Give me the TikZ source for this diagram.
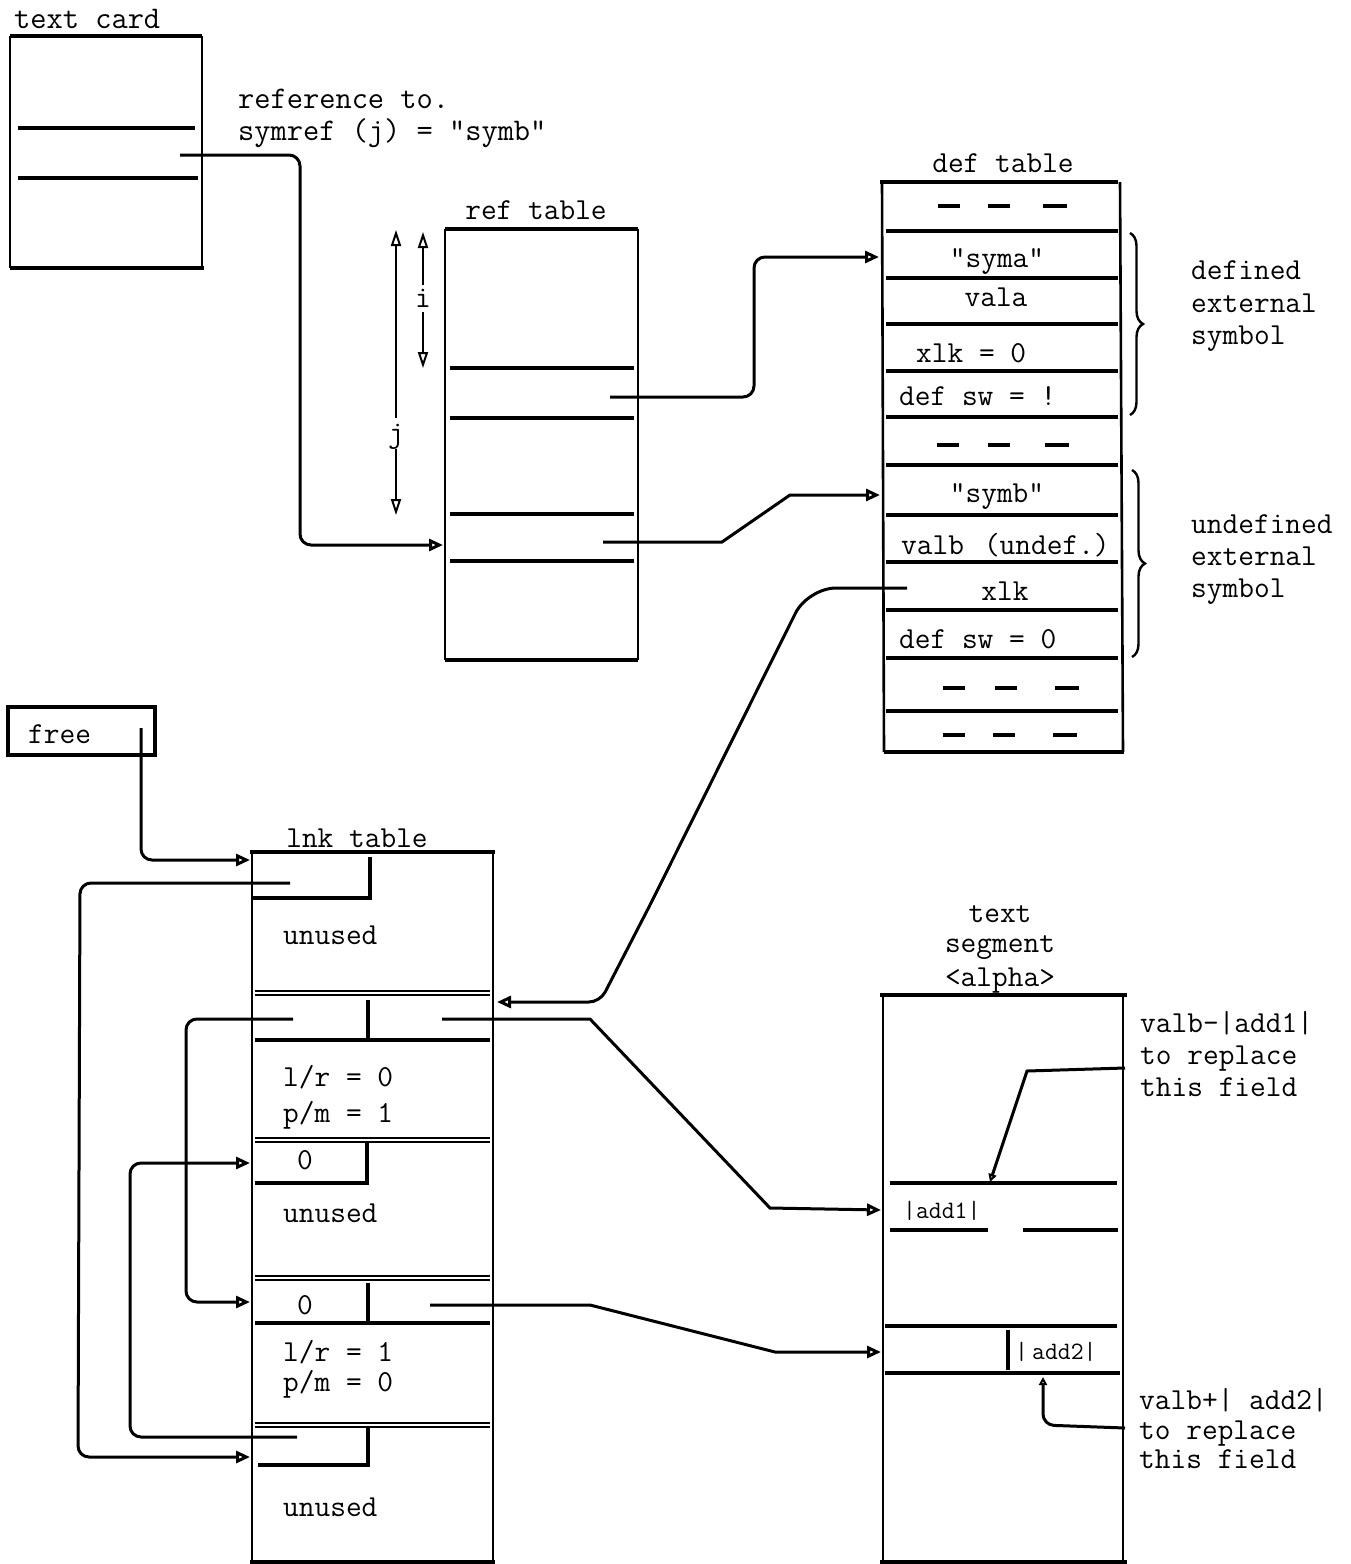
\documentclass[tikz,border=0pt]{standalone}
\usepackage{fontspec}
\usetikzlibrary{arrows.meta,decorations.pathreplacing}
\begin{document}
\begin{tikzpicture}[x=1pt,y=-1pt,
  ln/.style={line width=3.2pt},
  vln/.style={line width=2.6pt},
  conn/.style={line width=3pt, rounded corners=11pt},
  arr/.style={-{Triangle[open,length=14pt,width=12pt]}},
  sarr/.style={-{Triangle[open,length=8pt,width=8pt]}},
  dim/.style={line width=2pt,{Triangle[open,length=16pt,width=10pt]}-{Triangle[open,length=16pt,width=10pt]}},
  txt/.style={font=\ttfamily\fontsize{30.5}{34}\selectfont, inner sep=0pt, text height=19pt, text depth=0pt, anchor=west},
  ctxt/.style={font=\ttfamily\fontsize{30.5}{34}\selectfont, inner sep=0pt, text height=19pt, text depth=0pt},
  big/.style={font=\ttfamily\fontsize{31.5}{35}\selectfont},
  stxt/.style={font=\ttfamily\fontsize{25}{29}\selectfont, inner sep=0pt, text height=15pt, text depth=0pt, anchor=west},
  dbl/.style={double, double distance=2.5pt, line width=1.6pt},
  brc/.style={decorate, decoration={brace, amplitude=13pt}, line width=2.4pt},
]
\useasboundingbox (0,0) rectangle (1351,1564);

% ---------------- text card ----------------
\node[txt,big] (tclab) at (14,19) {text card};
\draw[ln] (10,36) -- (202,36);
\draw[vln] (10,36) -- (10,268);
\draw[vln] (202,36) -- (202,268);
\draw[ln] (10,268) -- (204,268);
\draw[ln] (18,128) -- (195,128);
\draw[ln] (18,178) -- (198,178);
\coordinate (tcs) at (180,155);
\node[txt,big] (reflab1) at (238,99) {reference to.};
\node[txt,big] (reflab2) at (238,131) {symref (j) = "symb"};

% ---------------- ref table ----------------
\node[ctxt] (rtlab) at (536,210) {ref table};
\draw[ln] (445,229) -- (638,229);
\draw[vln] (445,229) -- (445,660);
\draw[vln] (638,229) -- (638,660);
\draw[ln] (445,660) -- (638,660);
\foreach \yy in {368,418,514,561} \draw[ln] (450,\yy) -- (634,\yy);
\coordinate (rs1) at (610,397);
\coordinate (rs2) at (603,542);
\coordinate (rtin) at (443,545);
% index arrows
\coordinate (iT) at (423,232);
\coordinate (iB) at (423,368);
\coordinate (jT) at (396,230);
\coordinate (jB) at (396,515);
\draw[dim] (iT) -- (iB);
\draw[dim] (jT) -- (jB);
\node[ctxt, fill=white, inner ysep=4pt] (ilab) at (423,298) {i};
\node[ctxt, fill=white, inner ysep=6pt] (jlab) at (396,433) {j};

% text card -> ref table
\draw[conn,arr] (tcs) -- (300,155) -- (300,545) -- (rtin);

% ---------------- def table ----------------
\node[ctxt] (dtlab) at (1003,163) {def table};
\draw[ln] (880,182) -- (1118,182);
\draw[vln] (882,182) -- (884,752);
\draw[vln] (1120,182) -- (1123,752);
\draw[ln] (884,752) -- (1124,752);
\foreach \yy in {231,278,324,371,417,465,515,562,610,658,711} \draw[ln] (886,\yy) -- (1118,\yy);
% dash rows
\foreach \yy/\a/\b/\c in {206/938/988/1043, 445/937/988/1045, 688/943/995/1055, 735/943/993/1053}{
  \draw[ln] (\a,\yy) -- ++(22,0);
  \draw[ln] (\b,\yy) -- ++(22,0);
  \draw[ln] (\c,\yy) -- ++(24,0);
}
\node[ctxt] (syma) at (997,258) {"syma"};
\node[ctxt] (vala) at (996,297) {vala};
\node[txt]  (xlka) at (916,353) {xlk = 0};
\node[txt]  (dswa) at (899,396) {def sw = !};
\node[ctxt] (symb) at (997,493) {"symb"};
\node[txt]  (valb) at (901,545) {valb\hspace{20pt}(undef.)};
\node[ctxt] (xlkb) at (1005,591) {xlk};
\node[txt]  (dswb) at (899,639) {def sw = 0};
\coordinate (d1in) at (879,257);
\coordinate (d2in) at (880,495);
\coordinate (xlks) at (907,588);
% braces
\draw[brc] (1130,233) -- (1130,415);
\draw[brc] (1132,470) -- (1132,657);
\node[txt] (def1) at (1191,270) {defined};
\node[txt] (def2) at (1191,303) {external};
\node[txt] (def3) at (1191,335) {symbol};
\node[txt] (und1) at (1191,524) {undefined};
\node[txt] (und2) at (1191,556) {external};
\node[txt] (und3) at (1191,588) {symbol};

% ref table -> def table
\draw[conn,arr] (rs1) -- (754,397) -- (754,257) -- (d1in);
\draw[line width=3pt,arr] (rs2) -- (722,542) -- (790,495) -- (d2in);

% ---------------- free ----------------
\draw[ln] (8,707) rectangle (155,755);
\node[txt] (freelab) at (28,734) {free};
\coordinate (fs) at (141,728);

% ---------------- lnk table ----------------
\node[ctxt] (lklab) at (357,838) {lnk table};
\draw[ln] (250,852) -- (495,852);
\draw[vln] (252,852) -- (252,1562);
\draw[vln] (493,852) -- (493,1562);
\draw[ln] (250,1562) -- (495,1562);
% row 1
\draw[ln] (370,857) -- (370,898) -- (252,898);
\coordinate (l1s) at (290,883);
\coordinate (l1in) at (250,860);
\node[txt] (un1) at (283,935) {unused};
\draw[dbl] (255,993) -- (490,993);
% row 2
\draw[ln] (368,1000) -- (368,1040);
\draw[ln] (255,1040) -- (490,1040);
\coordinate (l2sl) at (293,1019);
\coordinate (l2sr) at (442,1019);
\coordinate (l2in) at (497,1002);
\node[txt] (lr0) at (283,1077) {l/r = 0};
\node[txt] (pm1) at (283,1113) {p/m = 1};
\draw[dbl] (255,1140) -- (490,1140);
% row 3
\node[ctxt] (z3) at (305,1160) {0};
\draw[ln] (367,1143) -- (367,1183) -- (255,1183);
\coordinate (l3in) at (250,1163);
\node[txt] (un3) at (283,1213) {unused};
\draw[dbl] (255,1278) -- (490,1278);
% row 4
\node[ctxt] (z4) at (305,1305) {0};
\draw[ln] (368,1283) -- (368,1323);
\draw[ln] (255,1323) -- (490,1323);
\coordinate (l4sr) at (430,1305);
\coordinate (l4in) at (250,1302);
\node[txt] (lr1) at (283,1352) {l/r = 1};
\node[txt] (pm0) at (283,1382) {p/m = 0};
\draw[dbl] (255,1425) -- (490,1425);
% row 5
\draw[ln] (368,1427) -- (368,1465) -- (258,1465);
\coordinate (l5s) at (297,1437);
\coordinate (l5in) at (250,1457);
\node[txt] (un5) at (283,1507) {unused};

% free -> lnk
\draw[conn,arr] (fs) -- (141,860) -- (l1in);
% chain inside lnk
\draw[conn,arr] (l1s) -- (80,883) -- (78,1457) -- (l5in);
\draw[conn,arr] (l2sl) -- (186,1019) -- (186,1302) -- (l4in);
\draw[conn,arr] (l5s) -- (130,1437) -- (130,1163) -- (l3in);
% def xlk -> lnk
\draw[line width=3pt,rounded corners=28pt] (xlks) -- (808,588) -- (650,905);
\draw[conn,arr] (650,905) -- (600,1002) -- (l2in);

% ---------------- text segment ----------------
\node[ctxt] (ts1) at (1000,913) {text};
\node[ctxt] (ts2) at (1000,943) {segment};
\node[ctxt] (ts3) at (1000,977) {<alpha>};
\draw[ln] (880,995) -- (1127,995);
\draw[vln] (883,995) -- (883,1562);
\draw[vln] (1123,995) -- (1123,1562);
\draw[ln] (880,1562) -- (1127,1562);
% add1 field
\draw[ln] (890,1183) -- (1117,1183);
\node[stxt] (add1) at (903,1211) {\textbar add1\textbar};
\draw[ln] (890,1230) -- (988,1230);
\draw[ln] (1023,1230) -- (1118,1230);
\coordinate (a1top) at (990,1182);
\coordinate (tsin1) at (881,1210);
% add2 field
\draw[ln] (885,1326) -- (1117,1326);
\draw[ln] (1008,1330) -- (1008,1370);
\node[stxt] (add2) at (1015,1352) {\textbar\,add2\textbar};
\draw[ln] (885,1373) -- (1120,1373);
\coordinate (a2bot) at (1043,1377);
\coordinate (tsin2) at (881,1352);
% notes
\node[txt] (n11) at (1140,1023) {valb-\textbar add1\textbar};
\node[txt] (n12) at (1140,1055) {to replace};
\node[txt] (n13) at (1140,1087) {this field};
\node[txt] (n21) at (1139,1400) {valb+\textbar\ add2\textbar};
\node[txt] (n22) at (1139,1430) {to replace};
\node[txt] (n23) at (1139,1459) {this field};
\coordinate (n1c) at (1125,1068);
\coordinate (n2c) at (1125,1428);
\draw[line width=3pt,sarr] (n1c) -- (1027,1071) -- (a1top);
\draw[conn,sarr] (n2c) -- (1043,1425) -- (a2bot);

% lnk -> text segment
\draw[line width=3pt,arr] (l2sr) -- (590,1019) -- (770,1208) -- (tsin1);
\draw[line width=3pt,arr] (l4sr) -- (590,1305) -- (775,1352) -- (tsin2);
\end{tikzpicture}
\end{document}
